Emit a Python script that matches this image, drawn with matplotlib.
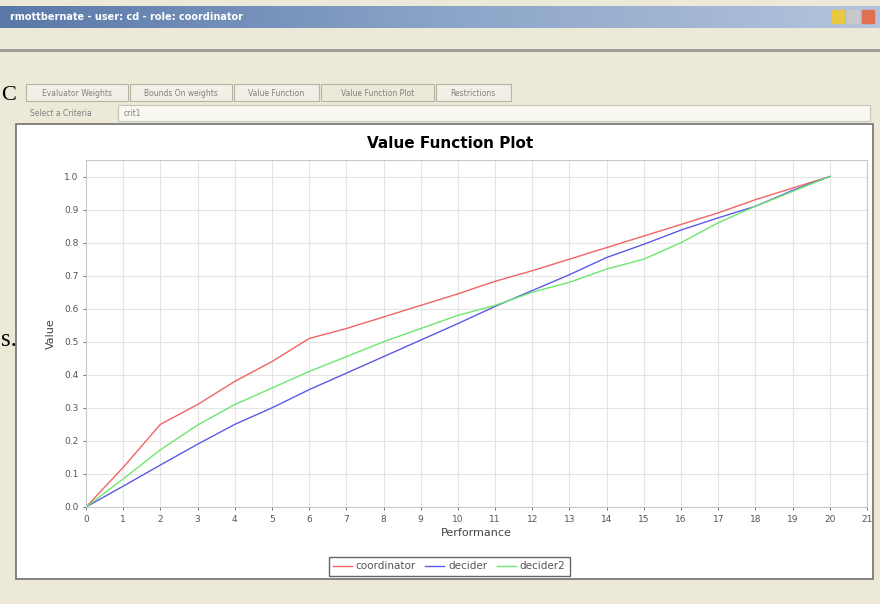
import matplotlib
matplotlib.use("Agg")
import matplotlib.pyplot as plt
import numpy as np
from matplotlib.patches import Rectangle

# data
performance = list(range(0, 21))
coordinator = [0.0, 0.12, 0.25, 0.31, 0.38, 0.44, 0.51, 0.54, 0.575, 0.61, 0.645,
               0.683, 0.715, 0.75, 0.785, 0.82, 0.855, 0.89, 0.93, 0.965, 1.0]
decider = [0.0, 0.063, 0.127, 0.19, 0.25, 0.30, 0.355, 0.405, 0.455, 0.505, 0.555,
           0.607, 0.655, 0.703, 0.755, 0.795, 0.838, 0.875, 0.91, 0.958, 1.0]
decider2 = [0.0, 0.085, 0.173, 0.248, 0.31, 0.36, 0.41, 0.455, 0.50, 0.54, 0.58,
            0.61, 0.65, 0.68, 0.72, 0.75, 0.80, 0.86, 0.91, 0.955, 1.0]
series_names = ["coordinator", "decider", "decider2"]
series_colors = ["#f06464", "#5a5ae6", "#6ee66e"]
tabs = ["Evaluator Weights", "Bounds On weights", "Value Function",
        "Value Function Plot", "Restrictions"]

W, H = 880, 604
fig = plt.figure(figsize=(W / 100, H / 100), dpi=100)
fig.patch.set_facecolor("#ece9d8")

# background layer in pixel coords for the window chrome
bg = fig.add_axes([0, 0, 1, 1])
bg.set_xlim(0, W)
bg.set_ylim(H, 0)
bg.axis("off")

# title bar
grad = np.linspace(0, 1, 256).reshape(1, -1)
bg.imshow(grad, extent=[0, W, 28, 6], cmap=matplotlib.colors.LinearSegmentedColormap.from_list(
    "tb", ["#5a78a8", "#8aa4c8", "#b4c4dc"]), aspect="auto", zorder=1)
bg.text(10, 17, "rmottbernate - user: cd - role: coordinator", color="white",
        fontsize=7, fontweight="bold", va="center", zorder=2)
for i, c in enumerate(["#e8c840", "#c8c8c8", "#e07050"]):
    bg.add_patch(Rectangle((832 + i * 15, 10), 12, 13, color=c, zorder=2))
bg.plot([0, W], [50, 50], color="#9a9890", lw=2, zorder=2)

# tabs
x = 26
for t in tabs:
    w = len(t) * 5.4 + 10
    fc = "#ece9d8" if t == "Value Function Plot" else "#f2f0e6"
    bg.add_patch(Rectangle((x, 84), w, 17, fc=fc, ec="#b8b4a4", lw=0.8, zorder=2))
    bg.text(x + w / 2, 93, t, fontsize=5.5, color="#808080", ha="center", va="center", zorder=3)
    x += w + 2
bg.text(30, 113, "Select a Criteria", fontsize=5.5, color="#808080", va="center")
bg.add_patch(Rectangle((118, 105), 752, 16, fc="#f8f7f0", ec="#c8c4b4", lw=0.8))
bg.text(124, 113, "crit1", fontsize=5.5, color="#808080", va="center")

# chart panel
bg.add_patch(Rectangle((16, 124), 857, 455, fc="white", ec="#707070", lw=1.2, zorder=1))
bg.text(450, 143, "Value Function Plot", fontsize=11, fontweight="bold",
        ha="center", va="center", zorder=3)

# document text bleeding in at the left edge
bg.text(1, 95, "C", fontsize=16, family="Liberation Serif", va="center")
bg.text(1, 340, "s.", fontsize=18, family="Liberation Serif", va="center")

ax = fig.add_axes([86 / W, 1 - 507 / H, 781 / W, (507 - 160) / H])
ax.set_facecolor("white")
for name, vals, col in zip(series_names, [coordinator, decider, decider2], series_colors):
    ax.plot(performance, vals, color=col, lw=1.0, label=name)

ax.set_xlim(0, 21)
ax.set_ylim(0, 1.05)
ax.set_xticks(range(0, 22))
ax.set_yticks(np.arange(0, 1.01, 0.1))
ax.set_yticklabels([f"{v:.1f}" for v in np.arange(0, 1.01, 0.1)])
ax.grid(True, color="#e4e4e4", lw=0.8)
ax.set_axisbelow(True)
for s in ax.spines.values():
    s.set_color("#c8c8c8")
ax.tick_params(labelsize=6.5, colors="#555555", length=2, width=0.6)
ax.set_xlabel("Performance", fontsize=8, color="#444444", labelpad=3)
ax.set_ylabel("Value", fontsize=8, color="#444444", labelpad=6)

leg = ax.legend(loc="upper center", bbox_to_anchor=(0.465, -0.13), ncol=3,
                fontsize=7.5, frameon=True, fancybox=False, handlelength=1.8,
                columnspacing=0.9, handletextpad=0.4, borderpad=0.4)
leg.get_frame().set_edgecolor("#404040")
leg.get_frame().set_linewidth(1.0)
for t in leg.get_texts():
    t.set_color("#555555")

fig.savefig("out.png", dpi=100)
